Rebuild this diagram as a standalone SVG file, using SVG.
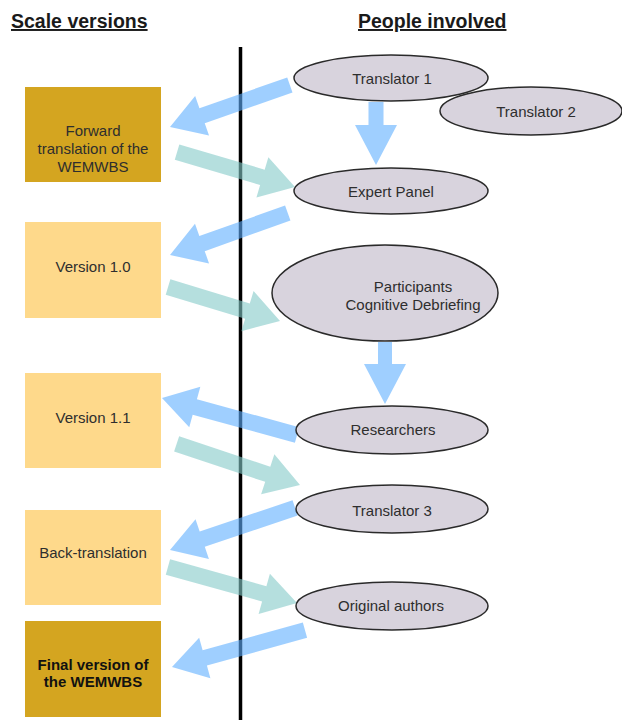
<svg xmlns="http://www.w3.org/2000/svg" width="622" height="720" viewBox="0 0 622 720">
<style>
.title{font-family:"Liberation Sans",Arial,sans-serif;font-weight:bold;font-size:19.5px;fill:#1a1a1a;text-decoration:underline}
.t{font-family:"Liberation Sans",Arial,sans-serif;font-size:15px;fill:#2e2e2e;text-anchor:middle}
.b{font-weight:bold;fill:#111}
.dark{fill:#D4A520}
.light{fill:#FED98B}
.ell{fill:#D8D3DD;stroke:#2a2a2a;stroke-width:1.5}
.blue{fill:#5FAFFF;fill-opacity:0.6}
.teal{fill:#84CAC8;fill-opacity:0.6}
</style>
<rect width="622" height="720" fill="#ffffff"/>
<text class="title" x="11" y="28">Scale versions</text>
<text class="title" x="358" y="28">People involved</text>
<line x1="240.5" y1="47" x2="240.5" y2="720" stroke="#000" stroke-width="3.5"/>

<g id="connectors">
<polygon class="blue" points="-127,-8 -34,-8 -34,-21 0,0 -34,21 -34,8 -127,8" transform="translate(170,127) rotate(160.7)"/>
<polygon class="teal" points="-123,-8 -34,-8 -34,-21 0,0 -34,21 -34,8 -123,8" transform="translate(295,187) rotate(16.5)"/>
<polygon class="blue" points="-63,-7.5 -40,-7.5 -40,-21 0,0 -40,21 -40,7.5 -63,7.5" transform="translate(376,165) rotate(90)"/>
<polygon class="blue" points="-125,-8 -34,-8 -34,-21 0,0 -34,21 -34,8 -125,8" transform="translate(170,255) rotate(160.4)"/>
<polygon class="teal" points="-117,-8 -34,-8 -34,-21 0,0 -34,21 -34,8 -117,8" transform="translate(280,321) rotate(16.9)"/>
<polygon class="blue" points="-62,-7 -40,-7 -40,-21 0,0 -40,21 -40,7 -62,7" transform="translate(385,404) rotate(90)"/>
<polygon class="blue" points="-140,-8 -34,-8 -34,-21 0,0 -34,21 -34,8 -140,8" transform="translate(162,398) rotate(195.3)"/>
<polygon class="teal" points="-130,-8 -34,-8 -34,-21 0,0 -34,21 -34,8 -130,8" transform="translate(300,485) rotate(18.4)"/>
<polygon class="blue" points="-132,-8 -34,-8 -34,-21 0,0 -34,21 -34,8 -132,8" transform="translate(170,550) rotate(161.4)"/>
<polygon class="teal" points="-134,-8 -34,-8 -34,-21 0,0 -34,21 -34,8 -134,8" transform="translate(297,603) rotate(15.6)"/>
<polygon class="blue" points="-138,-8 -34,-8 -34,-21 0,0 -34,21 -34,8 -138,8" transform="translate(172,667) rotate(164.5)"/>
</g>

<g id="box-forward">
<rect class="dark" x="25" y="87" width="136" height="95"/>
<text class="t" x="93" y="136">Forward</text>
<text class="t" x="93" y="154">translation of the</text>
<text class="t" x="93" y="172">WEMWBS</text>
</g>
<g id="box-v10">
<rect class="light" x="25" y="222" width="136" height="96"/>
<text class="t" x="93" y="272">Version 1.0</text>
</g>
<g id="box-v11">
<rect class="light" x="25" y="373" width="136" height="95"/>
<text class="t" x="93" y="423">Version 1.1</text>
</g>
<g id="box-back">
<rect class="light" x="25" y="510" width="136" height="95"/>
<text class="t" x="93" y="558">Back-translation</text>
</g>
<g id="box-final">
<rect class="dark" x="25" y="621" width="136" height="96"/>
<text class="t b" x="93" y="670">Final version of</text>
<text class="t b" x="93" y="687">the WEMWBS</text>
</g>

<g id="translator1">
<ellipse class="ell" cx="391" cy="78" rx="97" ry="23"/>
<text class="t" x="392" y="84">Translator 1</text>
</g>
<g id="translator2">
<ellipse class="ell" cx="531" cy="111" rx="91" ry="24"/>
<text class="t" x="536" y="117">Translator 2</text>
</g>
<g id="expert-panel">
<ellipse class="ell" cx="391" cy="191" rx="97" ry="23"/>
<text class="t" x="391" y="197">Expert Panel</text>
</g>
<g id="participants">
<ellipse class="ell" cx="385" cy="293" rx="113" ry="48"/>
<text class="t" x="413" y="292">Participants</text>
<text class="t" x="413" y="310">Cognitive Debriefing</text>
</g>
<g id="researchers">
<ellipse class="ell" cx="392" cy="430" rx="96" ry="24"/>
<text class="t" x="393" y="435">Researchers</text>
</g>
<g id="translator3">
<ellipse class="ell" cx="392" cy="509" rx="96" ry="24"/>
<text class="t" x="392" y="516">Translator 3</text>
</g>
<g id="original-authors">
<ellipse class="ell" cx="392" cy="606" rx="96" ry="24"/>
<text class="t" x="391" y="611">Original authors</text>
</g>
</svg>
